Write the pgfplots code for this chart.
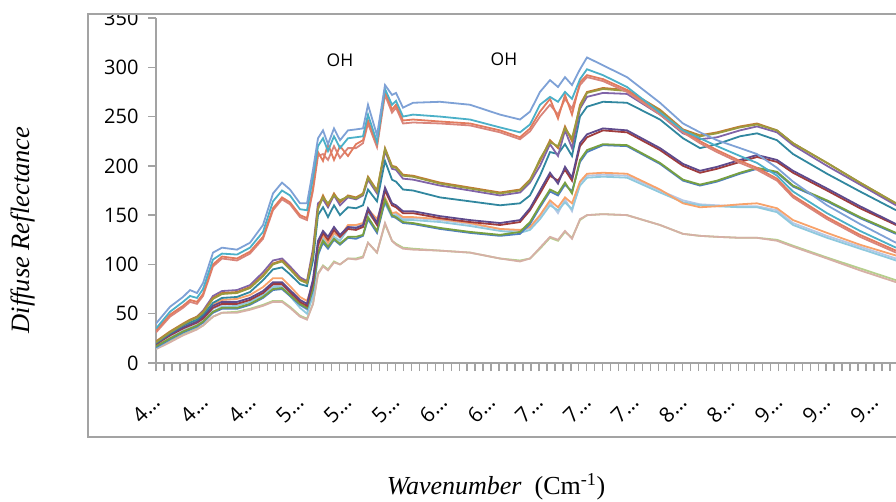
\documentclass[border=0pt]{standalone}
\usepackage{fontspec}
\setmainfont{Open Sans}
\newfontfamily\serif{Liberation Serif}
\usepackage{pgfplots}
\usepackage{pgfplotstable}
\pgfplotsset{compat=1.18}
\definecolor{axgray}{HTML}{A3A3A3}
\definecolor{cA1}{HTML}{7EA1D6}
\definecolor{cA2}{HTML}{4BB0C8}
\definecolor{cA3}{HTML}{E27B5E}
\definecolor{cA4}{HTML}{D9857B}
\definecolor{cB1}{HTML}{C07A33}
\definecolor{cB1b}{HTML}{9C9A3E}
\definecolor{cB2}{HTML}{8064A8}
\definecolor{cB3}{HTML}{31879F}
\definecolor{cC1}{HTML}{A03C3C}
\definecolor{cC2}{HTML}{5E4A8C}
\definecolor{cC3}{HTML}{78A040}
\definecolor{cC4}{HTML}{4F7FBF}
\definecolor{cC5}{HTML}{F8A26A}
\definecolor{cC6}{HTML}{8FC9DE}
\definecolor{cC7}{HTML}{B4C8E6}
\definecolor{cD1}{HTML}{D6B0A6}
\definecolor{cD2}{HTML}{B5CF8C}

\pgfplotstableread{
x A1 A2 A3 A4 B1 B1b B2 B3 C1 C2 C3 C4 C5 C6 C7 D1 D2
0 40 35 33 31 22 21 21 20 19 20 17 16 20 15 17 14 15
14 57 52 49 47 32 31 31 30 28 29 25 24 30 24 26 21 22
27 67 62 58 56 40 39 39 38 35 36 32 31 37 31 33 28 29
34 74 68 64 62 44 43 43 41 38 39 35 34 40 34 36 31 32
41 71 66 62 60 47 46 47 44 41 42 38 37 43 37 39 34 35
47 81 75 70 68 52 51 53 49 45 47 42 41 47 41 43 38 38
57 112 105 100 98 66 65 68 61 56 58 52 51 59 52 55 47 47
66 117 111 108 106 71 70 73 66 60 62 56 55 64 57 59 51 51
81 115 110 106 104 72 71 74 67 60 62 56 55 65 58 60 51 52
94 122 117 113 111 77 76 79 72 64 66 60 59 69 62 64 54 55
107 140 133 128 126 89 88 92 84 71 73 67 66 77 69 71 58 59
117 172 164 157 155 101 100 104 95 80 82 75 74 86 77 79 62 63
126 183 175 168 166 104 103 106 97 80 82 76 75 86 77 79 62 63
134 176 170 163 161 96 95 98 90 72 74 69 68 78 68 71 56 57
144 162 156 150 148 85 84 87 80 62 64 60 59 67 56 59 47 48
151 162 155 147 145 82 81 83 78 58 60 56 55 63 50 54 44 45
157 196 188 178 175 112 110 116 104 82 85 76 74 80 68 72 60 60
162 228 220 214 210 158 156 162 150 120 124 112 110 118 108 112 90 91
167 236 228 205 212 170 168 166 158 132 134 124 122 130 126 128 98 99
172 222 215 222 206 160 162 158 148 125 128 118 116 122 118 121 94 95
178 238 230 206 220 172 170 170 160 135 138 126 125 132 128 131 102 103
184 226 218 220 208 163 165 160 150 128 130 121 120 128 124 127 100 100
192 236 228 210 218 170 169 168 158 136 138 128 127 140 136 138 106 106
200 237 229 222 218 168 167 166 157 135 137 128 126 140 137 139 105 106
207 238 230 226 223 172 171 170 160 138 140 130 129 142 139 141 107 108
212 262 252 246 243 189 188 186 176 155 157 148 146 156 152 154 122 122
221 231 224 222 219 175 174 172 164 140 142 134 132 146 142 144 112 112
229 282 278 276 272 218 217 215 205 175 178 166 164 168 162 165 142 141
236 272 262 257 254 200 199 197 186 160 162 150 149 152 148 150 124 124
240 274 266 262 259 199 198 196 184 158 160 148 147 153 150 152 120 121
247 259 250 246 243 191 190 187 176 152 154 143 142 148 145 147 116 117
257 264 252 247 244 190 189 186 175 152 154 142 141 148 145 147 115 116
284 265 250 245 243 183 182 180 168 147 149 137 136 146 143 145 114 114
314 262 247 243 241 178 177 175 164 143 145 133 132 142 139 141 112 112
344 252 239 236 234 173 172 170 160 140 142 130 129 136 134 136 106 106
364 247 234 229 227 176 175 173 162 143 145 133 131 135 132 134 103 104
374 255 242 238 235 186 185 183 170 155 157 143 141 138 135 137 106 106
384 275 262 255 250 205 207 200 190 172 175 160 158 150 146 149 117 116
394 287 270 268 262 226 224 222 214 190 193 176 174 165 160 163 128 127
402 280 265 248 252 218 220 210 212 185 182 172 170 158 155 152 125 124
409 290 275 272 268 240 238 236 222 196 199 183 181 168 163 166 134 133
416 282 268 252 258 225 228 218 210 185 188 172 174 162 156 154 126 127
424 298 288 285 282 262 260 258 250 220 223 206 204 184 180 183 146 145
431 310 298 292 290 275 274 270 260 229 232 216 214 192 188 190 150 150
447 302 292 288 286 279 278 274 265 236 238 222 221 193 189 191 151 151
471 290 280 277 275 277 276 273 264 234 236 221 220 192 188 190 150 150
504 264 254 254 252 257 256 252 247 216 218 203 202 176 173 175 140 140
527 243 236 236 234 237 236 233 228 200 202 186 185 162 163 165 131 131
544 234 228 225 223 231 230 227 218 193 195 181 180 158 160 161 129 129
561 226 220 216 214 234 233 229 222 197 199 185 184 159 159 160 128 128
584 218 210 205 203 240 239 236 230 204 206 193 192 161 158 159 127 127
601 212 203 198 196 243 242 240 233 209 211 198 197 162 158 159 127 127
621 198 190 187 185 236 236 234 226 204 206 194 193 157 153 155 124 125
637 184 174 170 168 223 223 221 212 193 195 180 179 145 140 142 118 119
671 160 152 148 146 203 203 200 192 175 177 165 164 132 127 129 106 107
704 141 134 130 128 183 183 181 174 157 159 148 147 120 116 118 94 96
740 122 117 114 112 162 162 160 155 140 141 132 131 109 104 106 82 84
}\spec

\begin{document}
\begin{tikzpicture}[x=1pt,y=1pt]
\begin{axis}[
  at={(156pt,138pt)}, anchor=south west,
  scale only axis, width=740pt, height=345pt,
  xmin=0, xmax=740, ymin=0, ymax=350,
  axis x line*=bottom, axis y line*=left,
  axis line style={draw=axgray, line width=1.6pt, -},
  ytick={0,50,...,350},
  xtick={0,47.87,95.73,143.6,191.47,239.33,287.2,335.07,382.93,430.8,478.67,526.53,574.4,622.27,670.13,718},
  xticklabels={4…,4…,4…,5…,5…,5…,6…,6…,7…,7…,7…,8…,8…,9…,9…,9…},
  minor xtick={0,7.978,...,740},
  tick align=outside,
  major tick length=8pt, minor tick length=8pt,
  tick style={draw=axgray, line width=1.3pt},
  /pgf/number format/assume math mode=true,
  yticklabel style={font=\fontsize{20}{24}\selectfont, text=black, xshift=-6pt},
  xticklabel style={font=\fontsize{21}{24}\selectfont, text=black, inner sep=1pt, yshift=-27pt, xshift=1pt, rotate=45, anchor=east},
  every axis plot/.append style={line width=1.8pt, mark=none},
]
\addplot[cD2] table[x=x,y=D2]{\spec};
\addplot[cD1] table[x=x,y=D1]{\spec};
\addplot[cC7] table[x=x,y=C7]{\spec};
\addplot[cC6] table[x=x,y=C6]{\spec};
\addplot[cC5] table[x=x,y=C5]{\spec};
\addplot[cC4] table[x=x,y=C4]{\spec};
\addplot[cC3] table[x=x,y=C3]{\spec};
\addplot[cC1] table[x=x,y=C1]{\spec};
\addplot[cC2] table[x=x,y=C2]{\spec};
\addplot[cB3] table[x=x,y=B3]{\spec};
\addplot[cB2] table[x=x,y=B2]{\spec};
\addplot[cB1] table[x=x,y=B1]{\spec};
\addplot[cB1b] table[x=x,y=B1b]{\spec};
\addplot[cA4] table[x=x,y=A4]{\spec};
\addplot[cA3] table[x=x,y=A3]{\spec};
\addplot[cA2] table[x=x,y=A2]{\spec};
\addplot[cA1] table[x=x,y=A1]{\spec};
\end{axis}
\node[font=\fontsize{17.5}{20}\selectfont] at (340,441) {OH};
\node[font=\fontsize{17.5}{20}\selectfont] at (504,442) {OH};
\node[rotate=90, font=\serif\itshape\fontsize{26.5}{30}\selectfont] at (23,271) {Diffuse Reflectance};
\node[font=\serif\fontsize{26}{30}\selectfont] at (496,14) {\textit{Wavenumber}~~(Cm\textsuperscript{-1})};
\fill[white] (0,487.5) rectangle (896,501);
\draw[axgray, line width=1.8pt] (897,487) -- (88,487) -- (88,64) -- (897,64);
\pgfresetboundingbox
\path[use as bounding box] (0,0) rectangle (896,501);
\end{tikzpicture}
\end{document}
